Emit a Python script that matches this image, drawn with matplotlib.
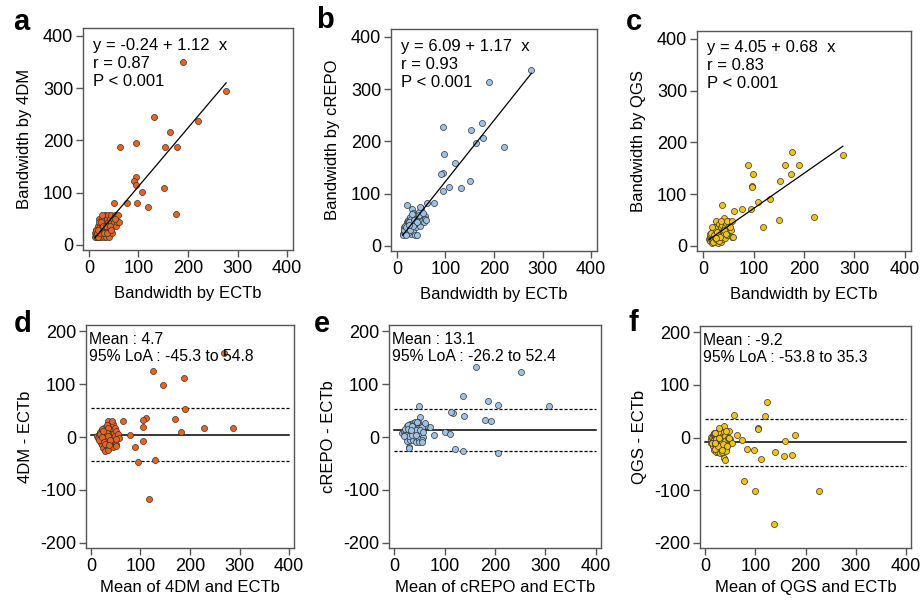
import numpy as np
import matplotlib
matplotlib.use("Agg")
import matplotlib.pyplot as plt

plt.rcParams['font.family'] = ['Liberation Sans', 'DejaVu Sans']
plt.rcParams['axes.unicode_minus'] = False

# ---------------- data ----------------
ectb = [190, 277, 220, 132, 163, 62, 96, 153, 177, 94, 90, 96, 108, 151, 50, 77, 98, 119, 175,
        12, 13, 14, 15, 16, 17, 18, 19, 20, 20, 21, 22, 23, 24, 24, 25, 26, 27, 27, 28,
        29, 30, 30, 31, 32, 33, 33, 34, 35, 35, 36, 37, 38, 38, 39, 40, 41, 42, 43, 44,
        45, 46, 47, 48, 50, 52, 55, 57, 58, 60, 20,
        14, 16, 19, 22, 25, 28, 31, 34, 36, 42, 45, 53, 26, 18]
dm4 = [349, 295, 237, 244, 216, 187, 194, 187, 187, 130, 122, 115, 101, 108, 80, 80, 80, 72, 58,
       14, 22, 18, 29, 14, 22, 36, 29, 50, 22, 14, 36, 29, 43, 22, 14, 36, 50, 29, 22,
       43, 14, 36, 50, 29, 57, 22, 43, 14, 36, 50, 29, 43, 22, 57, 36, 14, 50, 29, 43,
       57, 36, 22, 50, 43, 57, 36, 43, 57, 43, 43,
       29, 22, 14, 22, 43, 36, 22, 36, 22, 36, 29, 50, 57, 29]
crepo = [313, 336, 190, 110, 196, 81, 228, 221, 207, 140, 137, 105, 113, 124, 73, 81, 176, 158, 235,
         22, 20, 28, 35, 25, 30, 40, 24, 45, 33, 28, 43, 38, 50, 30, 26, 48, 55, 35, 42,
         30, 22, 52, 46, 70, 62, 40, 28, 50, 58, 42, 45, 20, 55, 48, 35, 20, 60, 52, 44,
         64, 50, 38, 74, 55, 48, 45, 57, 52, 50, 78,
         30, 38, 35, 25, 45, 30, 60, 38, 50, 45, 58, 62, 40, 20]
qgs = [157, 175, 55, 91, 157, 67, 115, 126, 181, 72, 157, 113, 85, 49, 48, 72, 139, 37, 139,
       13, 18, 10, 14, 20, 6, 13, 22, 29, 15, 10, 36, 20, 27, 13, 8, 48, 22, 30, 15,
       6, 36, 13, 25, 43, 20, 10, 30, 8, 36, 22, 79, 15, 40, 28, 13, 54, 22, 36, 15,
       30, 45, 20, 48, 36, 30, 30, 18, 48, 18, 30,
       22, 25, 8, 20, 13, 27, 10, 18, 48, 30, 22, 36, 15, 36]

methods = ['4DM', 'cREPO', 'QGS']
method_values = [dm4, crepo, qgs]
colors = ['#E8641E', '#9CC2E6', '#F2C40A']
intercepts = [-0.24, 6.09, 4.05]
slopes = [1.12, 1.17, 0.68]
r_values = ['0.87', '0.93', '0.83']
ba_mean = [4.7, 13.1, -9.2]
ba_lo = [-45.3, -26.2, -53.8]
ba_hi = [54.8, 52.4, 35.3]
letters_top = ['a', 'b', 'c']
letters_bot = ['d', 'e', 'f']

# ---------------- layout (pixel boxes: left, top, right, bottom) ----------------
W, H = 921, 600
top_boxes = [(83, 28, 293, 250), (391, 29, 597, 251), (697, 31, 911, 251)]
bot_boxes = [(86, 325, 294, 548), (389, 325, 601, 548), (700, 326, 911, 548)]
top_letters_xy = [(21, 22), (325, 20), (634, 22)]
bot_letters_xy = [(23, 324), (322, 324), (633, 323)]

def rect(b):
    l, t, r, bt = b
    return [l / W, 1 - bt / H, (r - l) / W, (bt - t) / H]

fig = plt.figure(figsize=(W / 100, H / 100), dpi=100)
fig.patch.set_facecolor('white')

spine_col = '#555555'

def style(ax):
    for s in ax.spines.values():
        s.set_color(spine_col)
        s.set_linewidth(1.0)
    ax.tick_params(direction='out', length=5, width=1, color=spine_col,
                   labelsize=13, labelcolor='black', pad=2)

E = np.array(ectb, dtype=float)
for i in range(3):
    M = np.array(method_values[i], dtype=float)
    # ---- top scatter ----
    ax = fig.add_axes(rect(top_boxes[i]))
    style(ax)
    ax.scatter(E, M, s=19, c=colors[i], edgecolors='#333333', linewidths=0.5, zorder=3)
    xl = np.array([E.min(), E.max()])
    ax.plot(xl, intercepts[i] + slopes[i] * xl, color='black', lw=0.9, zorder=4)
    ax.set_xlim(-12, 412)
    ax.set_ylim(-10, 415)
    ax.set_xticks([0, 100, 200, 300, 400])
    ax.set_yticks([0, 100, 200, 300, 400])
    ax.set_xlabel('Bandwidth by ECTb', fontsize=12, labelpad=7)
    ax.set_ylabel('Bandwidth by ' + methods[i], fontsize=12, labelpad=8)
    ax.text(0.048, 0.923, 'y = %.2f + %.2f  x' % (intercepts[i], slopes[i]),
            transform=ax.transAxes, fontsize=12, va='center', ha='left')
    ax.text(0.048, 0.842, 'r = ' + r_values[i], transform=ax.transAxes,
            fontsize=12, va='center', ha='left')
    ax.text(0.048, 0.761, 'P < 0.001', transform=ax.transAxes,
            fontsize=12, va='center', ha='left')
    lx, ly = top_letters_xy[i]
    fig.text(lx / W, 1 - ly / H, letters_top[i], fontsize=21, fontweight='bold',
             ha='center', va='center')

    # ---- bottom Bland-Altman ----
    ax2 = fig.add_axes(rect(bot_boxes[i]))
    style(ax2)
    mean_v = (E + M) / 2
    diff_v = M - E
    ax2.scatter(mean_v, diff_v, s=19, c=colors[i], edgecolors='#333333', linewidths=0.5, zorder=3)
    ax2.plot([0, 400], [ba_mean[i], ba_mean[i]], color='black', lw=1.1, zorder=2)
    ax2.plot([0, 400], [ba_lo[i], ba_lo[i]], color='black', lw=0.9, ls=(0, (2.5, 1.5)), zorder=2)
    ax2.plot([0, 400], [ba_hi[i], ba_hi[i]], color='black', lw=0.9, ls=(0, (2.5, 1.5)), zorder=2)
    ax2.set_xlim(-10, 410)
    ax2.set_ylim(-210, 212)
    ax2.set_xticks([0, 100, 200, 300, 400])
    ax2.set_yticks([-200, -100, 0, 100, 200])
    ax2.set_xlabel('Mean of %s and ECTb' % methods[i], fontsize=12, labelpad=4)
    ax2.set_ylabel('%s - ECTb' % methods[i], fontsize=12, labelpad=5)
    ax2.text(0.015, 0.933, 'Mean : %.1f' % ba_mean[i], transform=ax2.transAxes,
             fontsize=11.3, va='center', ha='left')
    ax2.text(0.015, 0.857, '95%% LoA : %.1f to %.1f' % (ba_lo[i], ba_hi[i]),
             transform=ax2.transAxes, fontsize=11.3, va='center', ha='left')
    lx, ly = bot_letters_xy[i]
    fig.text(lx / W, 1 - ly / H, letters_bot[i], fontsize=21, fontweight='bold',
             ha='center', va='center')

fig.savefig('out.png', dpi=100, facecolor='white')
